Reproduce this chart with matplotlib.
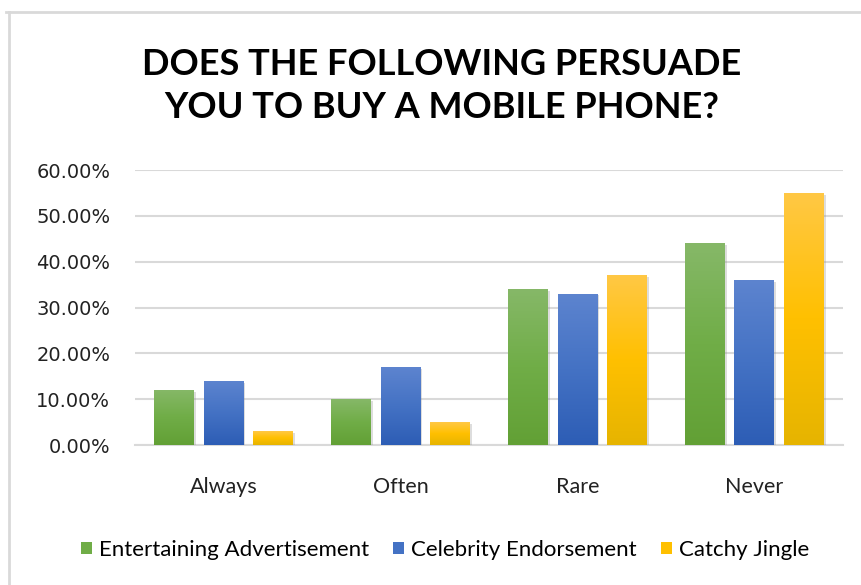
# Survey chart: does the following persuade you to buy a mobile phone?
import numpy as np
import matplotlib.pyplot as plt
from matplotlib.colors import LinearSegmentedColormap
from matplotlib.lines import Line2D
from matplotlib.patches import Patch
import matplotlib.patheffects as pe

# Data
categories = ["Always", "Often", "Rare", "Never"]
series_names = ["Entertaining Advertisement", "Celebrity Endorsement", "Catchy Jingle"]
entertaining = [0.12, 0.10, 0.34, 0.44]
celebrity = [0.14, 0.17, 0.33, 0.36]
jingle = [0.03, 0.05, 0.37, 0.55]
yticks = [0.0, 0.1, 0.2, 0.3, 0.4, 0.5, 0.6]

# gradient stops (top, middle, bottom) for each series
gradients = [
    ["#86b868", "#70ad47", "#62a035"],
    ["#5d84cf", "#4472c4", "#2d5db5"],
    ["#ffc845", "#ffc000", "#e6b400"],
]
solid = ["#70ad47", "#4472c4", "#ffc000"]

plt.rcParams['font.family'] = ['Lato', 'DejaVu Sans']

fig = plt.figure(figsize=(8.61, 5.85), dpi=100)
ax = fig.add_axes([0.157, 0.2393, 0.822, 0.4701])

x = np.arange(len(categories))
width = 0.226
step = 0.28
grad = np.linspace(0, 1, 256).reshape(-1, 1)

for i, vals in enumerate([entertaining, celebrity, jingle]):
    cmap = LinearSegmentedColormap.from_list("g%d" % i, gradients[i][::-1])
    pos = x + (i - 1) * step
    bars = ax.bar(pos, vals, width, color="none", edgecolor="none", zorder=3)
    for b in bars:
        b.set_path_effects([pe.SimplePatchShadow(offset=(1.2, -1.2), shadow_rgbFace="#909090", alpha=0.3),
                            pe.Normal()])
        x0, y0 = b.get_x(), b.get_y()
        im = ax.imshow(grad, cmap=cmap, aspect="auto", origin="lower",
                       extent=[x0, x0 + b.get_width(), y0, y0 + b.get_height()], zorder=4)
        im.set_clip_path(b)

ax.set_xlim(-0.5, len(categories) - 0.5)
ax.set_ylim(0, 0.6)
ax.set_yticks(yticks)
ax.set_yticklabels(["%.2f%%" % (v * 100) for v in yticks], family="DejaVu Sans", fontsize=14, color="#222222")
ax.set_xticks(x)
ax.set_xticklabels(categories, fontsize=15.5, color="#222222")
ax.tick_params(axis="y", length=0, pad=18)
ax.tick_params(axis="x", length=0, pad=23)
ax.grid(axis="y", color="#d9d9d9", linewidth=1.5, zorder=0)
ax.set_axisbelow(True)
for s in ["top", "right", "left"]:
    ax.spines[s].set_visible(False)
ax.spines["bottom"].set_color("#d9d9d9")
ax.spines["bottom"].set_linewidth(1.5)

fig.text(0.513, 0.853, "DOES THE FOLLOWING PERSUADE\nYOU TO BUY A MOBILE PHONE?",
         ha="center", va="center", fontsize=26, fontweight="bold", linespacing=1.38)

handles = [Patch(facecolor=c, edgecolor="none") for c in solid]
fig.legend(handles, series_names, loc="center", bbox_to_anchor=(0.517, 0.06), ncol=3,
           frameon=False, fontsize=16, handlelength=0.5, handleheight=0.5,
           handletextpad=0.3, columnspacing=1.1)

# chart area border (top and left edges)
fig.add_artist(Line2D([6 / 861, 1], [1 - 12 / 585, 1 - 12 / 585], color="#d9d9d9", linewidth=2))
fig.add_artist(Line2D([9 / 861, 9 / 861], [0, 1 - 12 / 585], color="#d9d9d9", linewidth=2))

plt.savefig("out.png", dpi=100)
